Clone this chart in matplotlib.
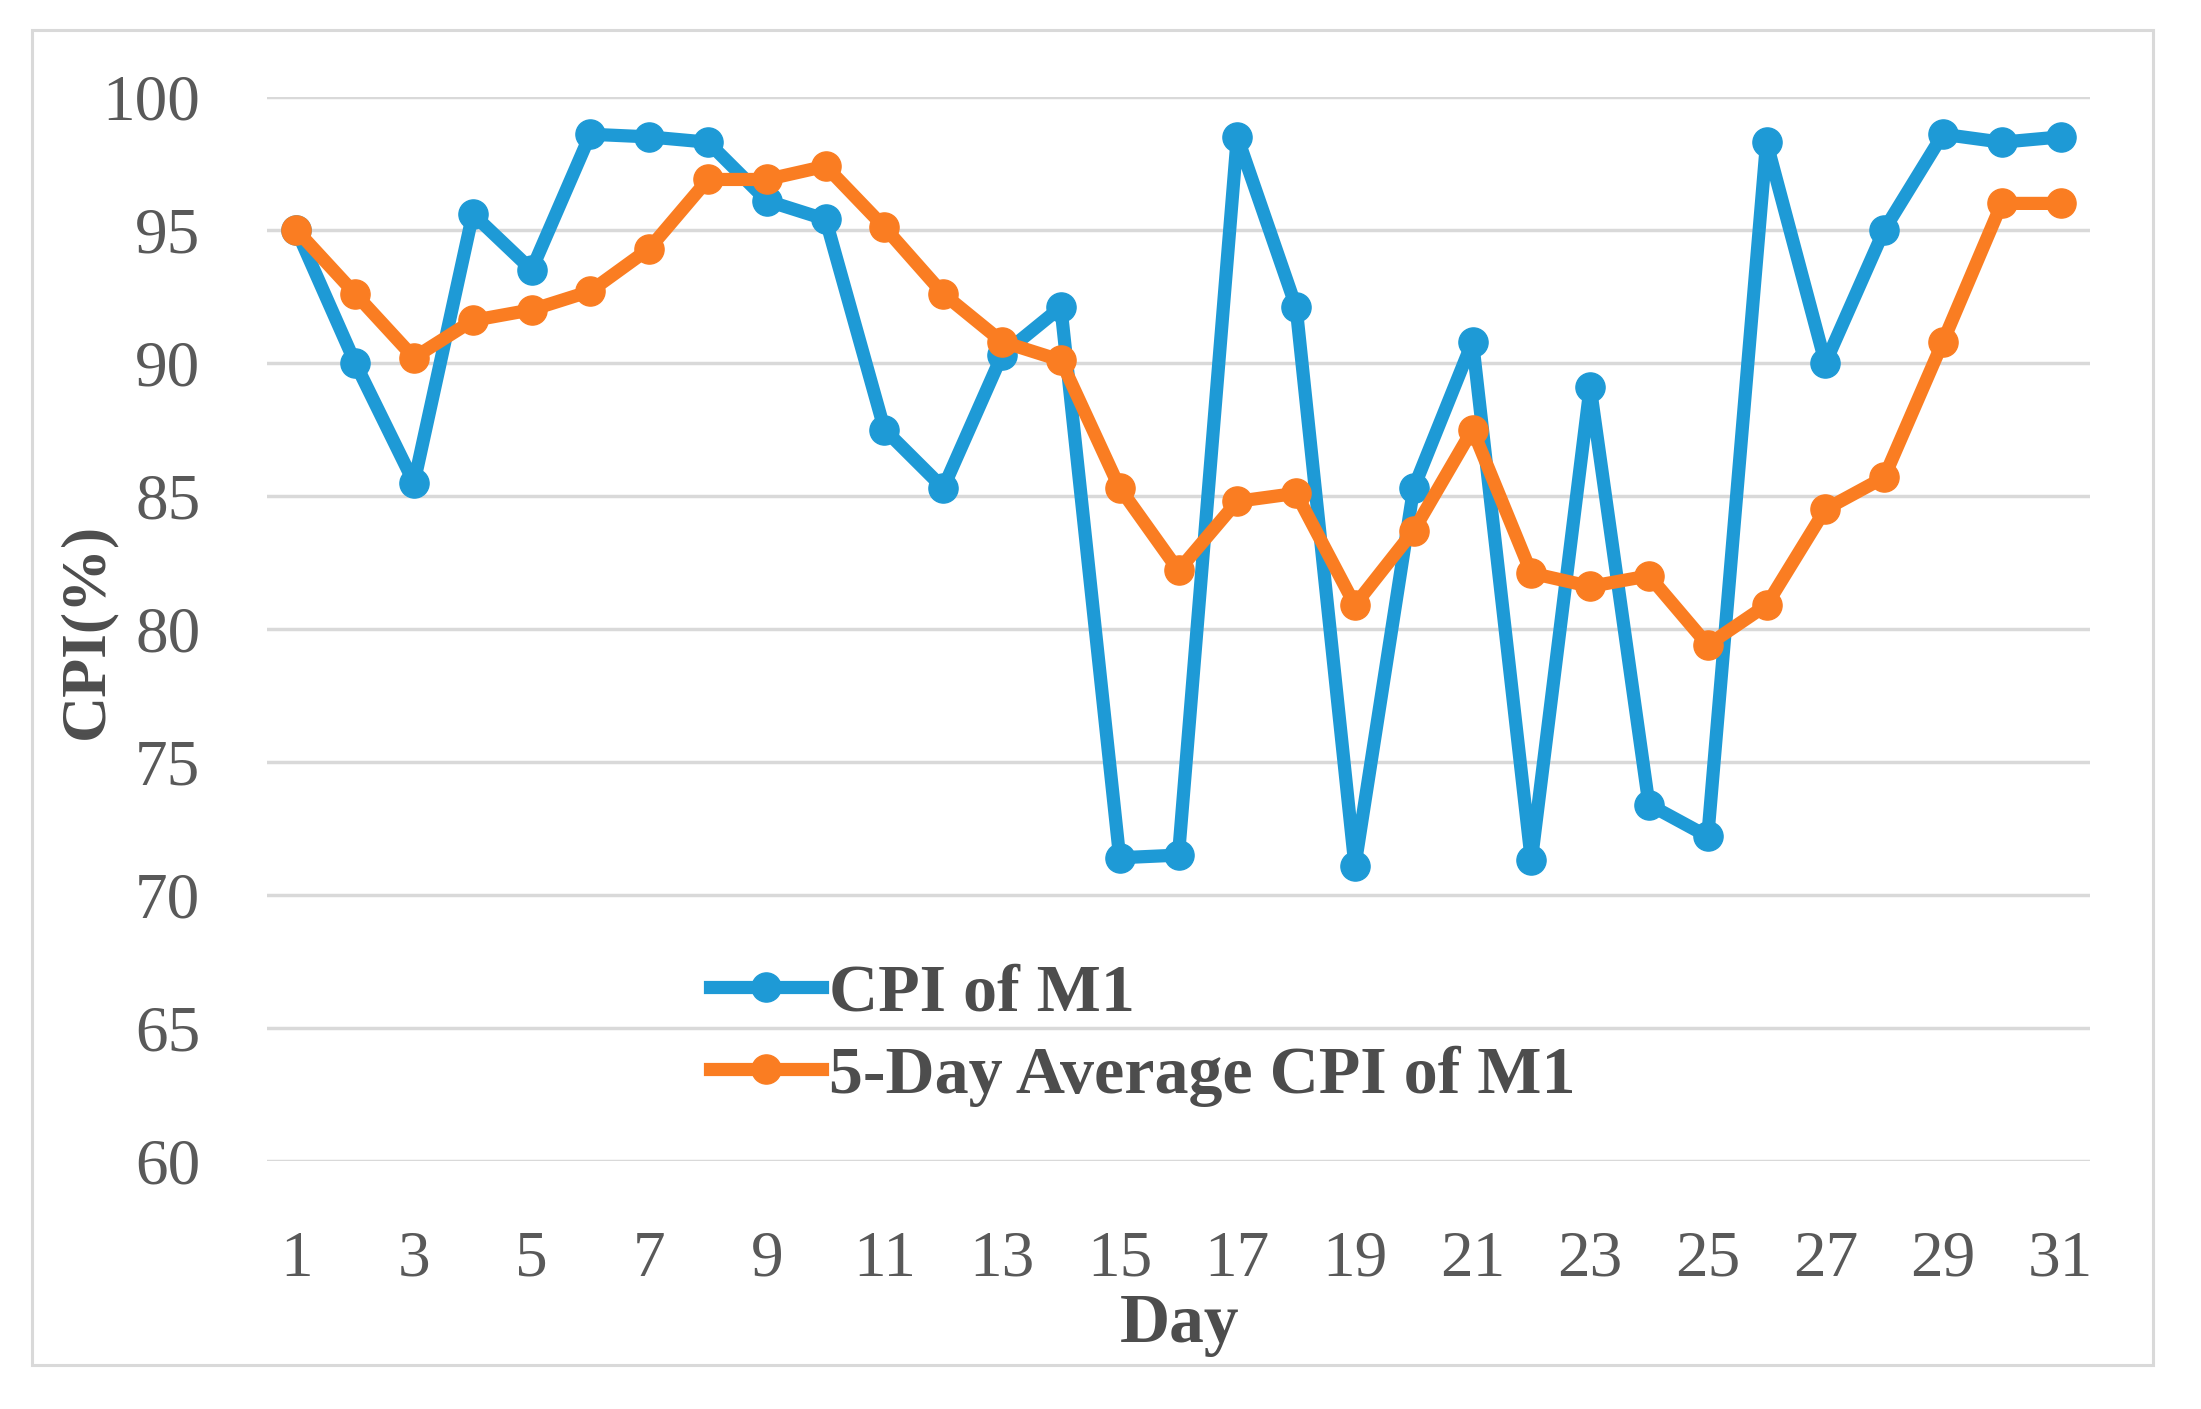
import matplotlib.pyplot as plt
from matplotlib.patches import Rectangle

# Data
days = list(range(1, 32))
cpi_m1 = [95.0, 90.0, 85.5, 95.6, 93.5, 98.6, 98.5, 98.3, 96.1, 95.4,
          87.5, 85.3, 90.3, 92.1, 71.4, 71.5, 98.5, 92.1, 71.1, 85.3,
          90.8, 71.3, 89.1, 73.4, 72.2, 98.3, 90.0, 95.0, 98.6, 98.3, 98.5]
cpi_avg5 = [95.0, 92.6, 90.2, 91.6, 92.0, 92.7, 94.3, 96.9, 96.9, 97.4,
            95.1, 92.6, 90.8, 90.1, 85.3, 82.2, 84.8, 85.1, 80.9, 83.7,
            87.5, 82.1, 81.6, 82.0, 79.4, 80.9, 84.5, 85.7, 90.8, 96.0, 96.0]
xticks = list(range(1, 32, 2))
yticks = list(range(60, 101, 5))

blue = '#1E9AD6'
orange = '#FA7D22'
tick_color = '#595959'
text_color = '#4D4D4D'
grid_color = '#D9D9D9'

plt.rcParams['font.family'] = ['Liberation Serif', 'DejaVu Serif']

W, H = 2201, 1409
fig = plt.figure(figsize=(W / 100, H / 100), dpi=100)

# outer chart frame
fig.patches.append(Rectangle((32 / W, 1 - 1365 / H), (2153 - 32) / W, (1365 - 30) / H,
                             transform=fig.transFigure, fill=False,
                             edgecolor=grid_color, lw=2.2))

ax = fig.add_axes([267 / W, 1 - 1161 / H, (2090 - 267) / W, (1161 - 97) / H])

ax.plot(days, cpi_m1, color=blue, lw=9.5, marker='o', ms=21,
        label='CPI of M1', clip_on=False, zorder=3)
ax.plot(days, cpi_avg5, color=orange, lw=9.5, marker='o', ms=21,
        label='5-Day Average CPI of M1', clip_on=False, zorder=4)

ax.set_xlim(0.5, 31.5)
ax.set_ylim(60, 100)
ax.set_xticks(xticks)
ax.set_yticks(yticks)
ax.tick_params(length=0, labelsize=47, colors=tick_color)
ax.tick_params(axis='y', pad=48)
ax.tick_params(axis='x', pad=50)
ax.grid(axis='y', color=grid_color, lw=2.5)
ax.set_axisbelow(True)
for s in ax.spines.values():
    s.set_visible(False)

fig.text(87 / W, 1 - 631 / H, 'CPI(%)', rotation=90, ha='center', va='center',
         fontsize=46, fontweight='bold', color=text_color)
fig.text(1180 / W, 1 - 1342 / H, 'Day', ha='center', va='baseline',
         fontsize=50, fontweight='bold', color=text_color)

leg = ax.legend(loc='center left', bbox_to_anchor=(710 / W, 1 - 1035 / H),
                bbox_transform=fig.transFigure, frameon=False,
                fontsize=49, handlelength=1.65, handletextpad=0.1,
                labelspacing=0.3, borderpad=0, borderaxespad=0)
for t in leg.get_texts():
    t.set_fontweight('bold')
    t.set_color(text_color)

fig.savefig('out.png', dpi=100)
